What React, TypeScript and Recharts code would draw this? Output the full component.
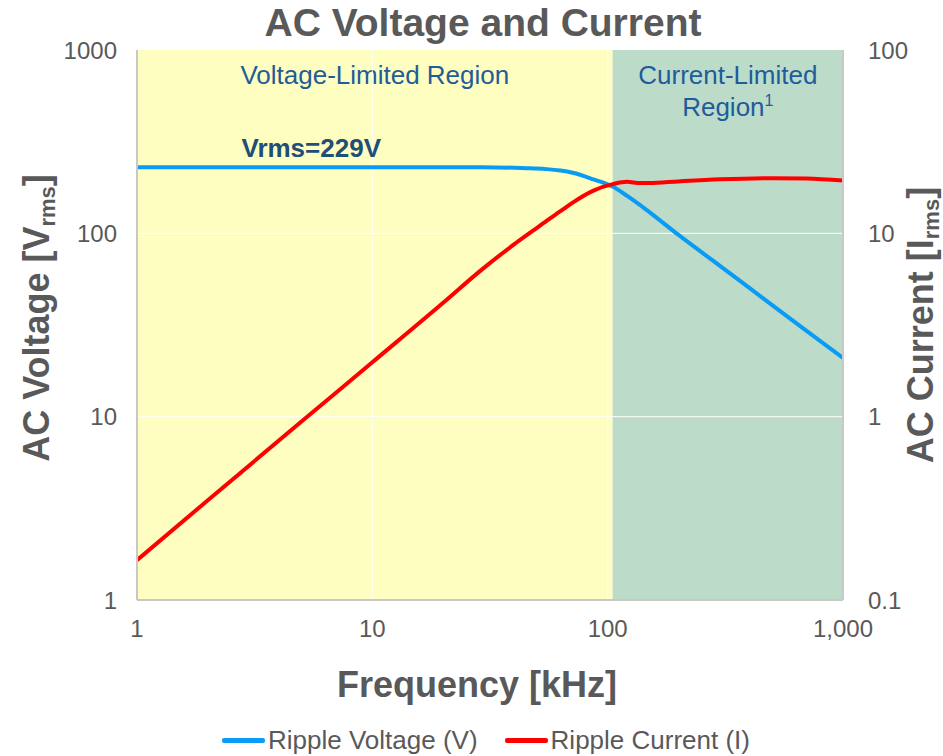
import {
  LineChart,
  Line,
  XAxis,
  YAxis,
  ReferenceArea,
  ReferenceLine,
  ReferenceDot,
  Legend,
  Label,
} from 'recharts'

// frequency sweep in kHz, with ripple voltage (Vrms) and ripple current (Irms) at each point
const freqKHz = [1, 2, 5, 10, 20, 29, 40, 48, 55, 63, 71, 87, 106, 121, 137, 150, 200, 300, 500, 700, 1000]
const rippleVoltage = [229, 229, 229, 229, 229, 229, 228, 226, 224, 220, 214, 197, 179, 160, 143, 131, 98, 66.5, 40.6, 29.4, 20.9]
const rippleCurrent = [0.165, 0.35, 0.94, 1.98, 4.18, 6.3, 8.7, 10.3, 11.7, 13.2, 14.7, 17.1, 18.6, 19.1, 18.8, 18.8, 19.2, 19.7, 20.0, 19.9, 19.4]

const freqTicks = [1, 10, 100, 1000]
const voltageTicks = [1, 10, 100, 1000]
const currentTicks = [0.1, 1, 10, 100]
const gridFreqs = [10, 100]
const gridVolts = [10, 100]
const regionSplitKHz = 105

const seriesNames = ['Ripple Voltage (V)', 'Ripple Current (I)']
const seriesColors = ['#0A9BF5', '#FF0000']

const rows = freqKHz.map((f, i) => ({ f, v: rippleVoltage[i], i: rippleCurrent[i] }))

const FONT = 'Arial, "Liberation Sans", sans-serif'
const GREY = '#595959'
const AXIS_GREY = '#C8C8C8'
const REGION_TEXT = '#1F5C99'

function RegionLabel({ viewBox, lines }: any) {
  const { x, y, width } = viewBox
  const cx = x + width / 2
  return (
    <g>
      {lines.map((ln: any, k: number) => (
        <text
          key={k}
          x={cx}
          y={y + 34 + k * 32}
          textAnchor="middle"
          fontFamily={FONT}
          fontSize={26}
          fill={REGION_TEXT}
        >
          {ln.text}
          {ln.sup ? (
            <tspan fontSize={16} dy={-10}>
              {ln.sup}
            </tspan>
          ) : null}
        </text>
      ))}
    </g>
  )
}

function VrmsLabel({ viewBox }: any) {
  const cx = viewBox.x + (viewBox.width || 0) / 2
  const cy = viewBox.y + (viewBox.height || 0) / 2
  return (
    <text
      x={cx}
      y={cy - 10}
      textAnchor="middle"
      fontFamily={FONT}
      fontWeight="bold"
      fontSize={26}
      fill="#1F4E79"
    >
      {`Vrms=${rippleVoltage[0]}V`}
    </text>
  )
}

function AxisTitle({ x, y, main, sub }: { x: number; y: number; main: string; sub: string }) {
  return (
    <text
      x={x}
      y={y}
      transform={`rotate(-90, ${x}, ${y})`}
      textAnchor="middle"
      fontFamily={FONT}
      fontWeight="bold"
      fontSize={36}
      fill={GREY}
    >
      {main}
      <tspan fontSize={22} dy={6}>
        {sub}
      </tspan>
      <tspan dy={-6}>]</tspan>
    </text>
  )
}

function LegendRow() {
  return (
    <div
      style={{
        display: 'flex',
        justifyContent: 'center',
        alignItems: 'center',
        height: 28,
        paddingLeft: 22,
        fontFamily: FONT,
        fontSize: 26,
        color: GREY,
      }}
    >
      {seriesNames.map((name, k) => (
        <div key={name} style={{ display: 'flex', alignItems: 'center', marginLeft: k ? 27 : 0 }}>
          <span style={{ width: 43, height: 5, background: seriesColors[k], borderRadius: 2, marginRight: 3 }} />
          <span>{name}</span>
        </div>
      ))}
    </div>
  )
}

const tickStyle = { fontSize: 24, fill: GREY, fontFamily: FONT }

export default function App() {
  return (
    <div style={{ position: 'absolute', left: 0, top: 0, width: 943, height: 756, background: '#fff' }}>
      <LineChart width={943} height={756} data={rows} margin={{ top: 50, right: 30, bottom: 2, left: 37 }}>
        <XAxis
          dataKey="f"
          type="number"
          scale="log"
          domain={[1, 1000]}
          ticks={freqTicks}
          allowDataOverflow
          tickFormatter={(v) => Number(v).toLocaleString('en-US')}
          tick={tickStyle}
          tickLine={false}
          tickSize={0}
          tickMargin={20}
          axisLine={{ stroke: AXIS_GREY, strokeWidth: 2 }}
          height={126}
        >
          <Label
            content={() => (
              <text x={477} y={697} textAnchor="middle" fontFamily={FONT} fontWeight="bold" fontSize={36} fill={GREY}>
                Frequency [kHz]
              </text>
            )}
          />
        </XAxis>
        <YAxis
          yAxisId="v"
          orientation="left"
          scale="log"
          domain={[1, 1000]}
          ticks={voltageTicks}
          allowDataOverflow
          tick={tickStyle}
          tickLine={false}
          tickSize={0}
          tickMargin={20}
          axisLine={{ stroke: AXIS_GREY, strokeWidth: 2 }}
          width={100}
        />
        <YAxis
          yAxisId="i"
          orientation="right"
          scale="log"
          domain={[0.1, 100]}
          ticks={currentTicks}
          allowDataOverflow
          tickFormatter={(v) => String(v)}
          tick={tickStyle}
          tickLine={false}
          tickSize={0}
          tickMargin={25}
          axisLine={{ stroke: AXIS_GREY, strokeWidth: 2 }}
          width={70}
        />

        <ReferenceArea
          yAxisId="v"
          x1={1}
          x2={regionSplitKHz}
          y1={1}
          y2={1000}
          fill="#FEFEC0"
          fillOpacity={1}
          stroke="none"
          label={<RegionLabel lines={[{ text: 'Voltage-Limited Region' }]} />}
        />
        <ReferenceArea
          yAxisId="v"
          x1={regionSplitKHz}
          x2={1000}
          y1={1}
          y2={1000}
          fill="#BCDBC9"
          fillOpacity={1}
          stroke="none"
          label={<RegionLabel lines={[{ text: 'Current-Limited' }, { text: 'Region', sup: '1' }]} />}
        />

        {gridFreqs.map((f) => (
          <ReferenceLine key={'gx' + f} yAxisId="v" x={f} stroke="#FFFFFF" strokeWidth={1.2} strokeOpacity={0.8} />
        ))}
        {gridVolts.map((v) => (
          <ReferenceLine key={'gy' + v} yAxisId="v" y={v} stroke="#FFFFFF" strokeWidth={1.2} strokeOpacity={0.8} />
        ))}

        <Line
          yAxisId="v"
          dataKey="v"
          name={seriesNames[0]}
          type="monotone"
          stroke={seriesColors[0]}
          strokeWidth={4}
          dot={false}
          activeDot={false}
          isAnimationActive={false}
        />
        <Line
          yAxisId="i"
          dataKey="i"
          name={seriesNames[1]}
          type="monotone"
          stroke={seriesColors[1]}
          strokeWidth={4}
          dot={false}
          activeDot={false}
          isAnimationActive={false}
        />

        <ReferenceDot yAxisId="v" x={5.5} y={rippleVoltage[0]} r={0} fill="none" stroke="none" label={<VrmsLabel />} />

        <Legend verticalAlign="bottom" content={() => <LegendRow />} />

        <text x={483} y={36} textAnchor="middle" fontFamily={FONT} fontWeight="bold" fontSize={39} fill={GREY}>
          AC Voltage and Current
        </text>
        <AxisTitle x={49} y={318} main="AC Voltage [V" sub="rms" />
        <AxisTitle x={933} y={325} main="AC Current [I" sub="rms" />
      </LineChart>
    </div>
  )
}
